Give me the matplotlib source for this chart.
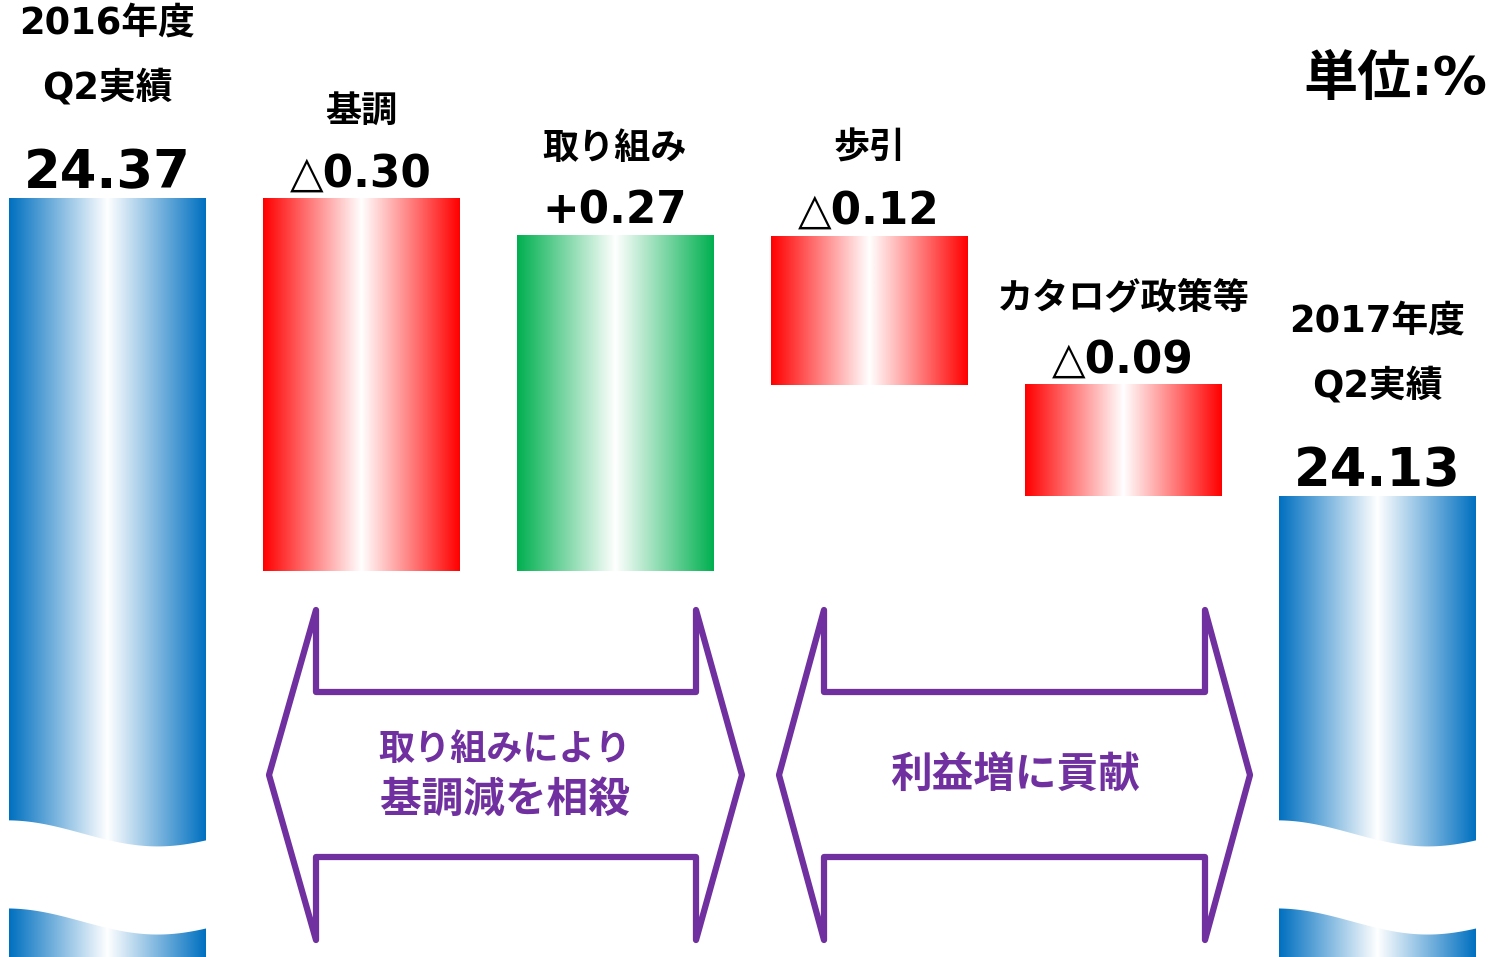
import numpy as np
import matplotlib.pyplot as plt
from matplotlib.patches import Polygon
from matplotlib.colors import to_rgb

plt.rcParams['font.family'] = ['DejaVu Sans', 'Noto Sans CJK JP']
plt.rcParams['font.weight'] = 'bold'

# data
categories = ["2016年度\nQ2実績", "基調", "取り組み", "歩引", "カタログ政策等", "2017年度\nQ2実績"]
start_value = 24.37
changes = [-0.30, 0.27, -0.12, -0.09]
end_value = 24.13
value_labels = ["24.37", "△0.30", "+0.27", "△0.12", "△0.09", "24.13"]
unit_label = "単位:%"
note_left = ["取り組みにより", "基調減を相殺"]
note_right = "利益増に貢献"

BLUE = "#0070C0"
RED = "#FF0000"
GREEN = "#00B050"
PURPLE = "#7030A0"

y_min, y_max = 23.759, 24.530
bar_w = 0.772


def gradient(color, n=256):
    t = np.linspace(0, 1, n)
    w = 1 - np.abs(2 * t - 1)
    c = np.array(to_rgb(color))
    img = c[None, :] * (1 - w[:, None]) + w[:, None]
    return img[None, :, :]


def main():
    fig = plt.figure(figsize=(14.91, 9.57), dpi=100)
    ax = fig.add_axes([0, 0, 1, 1])
    ax.set_xlim(-0.421, 5.449)
    ax.set_ylim(y_min, y_max)
    ax.axis("off")

    # waterfall segments
    bars = [(y_min, start_value, BLUE)]
    level = start_value
    for d in changes:
        lo, hi = sorted([level, level + d])
        bars.append((lo, hi, GREEN if d > 0 else RED))
        level += d
    bars.append((y_min, end_value, BLUE))

    for i, (lo, hi, col) in enumerate(bars):
        ax.imshow(gradient(col), extent=(i - bar_w / 2, i + bar_w / 2, lo, hi),
                  aspect="auto", interpolation="bilinear", zorder=2)

    # axis break on the total bars
    t = np.linspace(0, 1, 200)
    wave = -np.cos(np.pi * t / 0.75)
    amp = 0.0105
    for i in (0, len(bars) - 1):
        xs = i - bar_w / 2 - 0.01 + t * (bar_w + 0.02)
        upper = 23.859 - amp * wave
        lower = 23.788 - amp * wave
        ax.fill_between(xs, lower, upper, color="white", zorder=3, lw=0)

    ax.set_xlim(-0.421, 5.449)
    ax.set_ylim(y_min, y_max)

    # labels
    for i, (lo, hi, col) in enumerate(bars):
        total = i in (0, len(bars) - 1)
        ax.annotate(value_labels[i], (i, hi), xytext=(0, 25),
                    textcoords="offset pixels", ha="center", va="center",
                    fontsize=38 if total else 31.5, color="black", zorder=5)
        ax.annotate(categories[i], (i, hi), xytext=(0, 143 if total else 87),
                    textcoords="offset pixels", ha="center", va="center",
                    fontsize=26.5 if total else 26, linespacing=1.95 if total else 1.2,
                    color="black", zorder=5)

    fig.text(1395 / 1491, 1 - 80 / 957, unit_label, ha="center", va="center",
             fontsize=39, color="black")

    # double-headed block arrows (pixel overlay)
    ov = fig.add_axes([0, 0, 1, 1], facecolor="none")
    ov.set_xlim(0, 1491)
    ov.set_ylim(957, 0)
    ov.axis("off")
    for x0, x1, x2, x3 in [(269, 316, 696, 742), (779, 824, 1205, 1250)]:
        pts = [(x0, 775), (x1, 610), (x1, 692), (x2, 692), (x2, 610), (x3, 775),
               (x2, 940), (x2, 857), (x1, 857), (x1, 940)]
        ov.add_patch(Polygon(pts, closed=True, fill=False, edgecolor=PURPLE,
                             lw=4.5, joinstyle="round"))
    ov.text(505, 750, note_left[0], ha="center", va="center", fontsize=26,
            color=PURPLE)
    ov.text(505, 800, note_left[1], ha="center", va="center", fontsize=30,
            color=PURPLE)
    ov.text(1015, 775, note_right, ha="center", va="center", fontsize=30,
            color=PURPLE)

    fig.savefig("out.png", dpi=100)


if __name__ == "__main__":
    main()
